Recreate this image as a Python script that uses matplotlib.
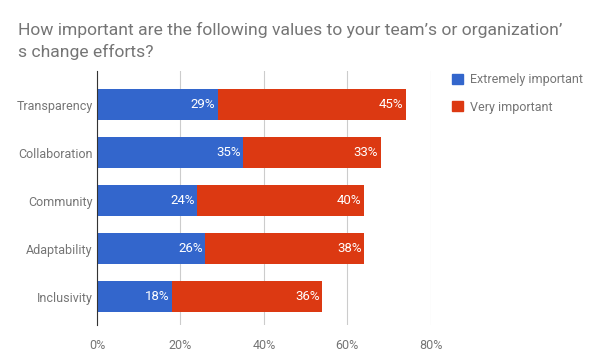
import numpy as np
import matplotlib.pyplot as plt
from matplotlib.patches import Patch

plt.rcParams['font.family'] = ['Roboto', 'DejaVu Sans']

categories = ['Transparency', 'Collaboration', 'Community', 'Adaptability', 'Inclusivity']
extremely = [29, 35, 24, 26, 18]
very = [45, 33, 40, 38, 36]
xticks = [0, 20, 40, 60, 80]

blue = '#3366cc'
red = '#dc3912'
gray = '#757575'

fig = plt.figure(figsize=(5.95, 3.64), dpi=100)
ax = fig.add_axes([0.163, 0.107, 0.561, 0.698])

y = np.arange(len(categories))
ax.barh(y, extremely, height=0.65, color=blue, zorder=3)
ax.barh(y, very, left=extremely, height=0.65, color=red, zorder=3)

for i in range(len(categories)):
    ax.text(extremely[i] - 0.6, y[i], f'{extremely[i]}%', color='white',
            ha='right', va='center', fontsize=9.5, zorder=4)
    ax.text(extremely[i] + very[i] - 0.6, y[i], f'{very[i]}%', color='white',
            ha='right', va='center', fontsize=9.5, zorder=4)

ax.set_xlim(0, 80)
ax.set_ylim(4.59, -0.70)
ax.set_xticks(xticks)
ax.set_xticklabels([f'{t}%' for t in xticks])
ax.set_yticks(y)
ax.set_yticklabels(categories)
ax.tick_params(length=0, labelsize=9, colors=gray)
ax.tick_params(axis='y', pad=3)
ax.tick_params(axis='x', pad=10)
ax.grid(axis='x', color='#cccccc', lw=0.8, zorder=0)
for s in ['top', 'right', 'bottom']:
    ax.spines[s].set_visible(False)
ax.spines['left'].set_color('#333333')
ax.spines['left'].set_zorder(5)

fig.text(0.03, 0.94, 'How important are the following values to your team\u2019s or organization\u2019\ns change efforts?',
         fontsize=12.6, color=gray, va='top', ha='left', linespacing=1.45)

handles = [Patch(color=blue), Patch(color=red)]
leg = fig.legend(handles, ['Extremely important', 'Very important'],
                 loc='upper left', bbox_to_anchor=(0.74, 0.83), frameon=False,
                 fontsize=9, handlelength=0.9, handleheight=0.9,
                 handletextpad=0.6, labelspacing=1.15)
for t in leg.get_texts():
    t.set_color(gray)

plt.savefig('out.png', dpi=100)
